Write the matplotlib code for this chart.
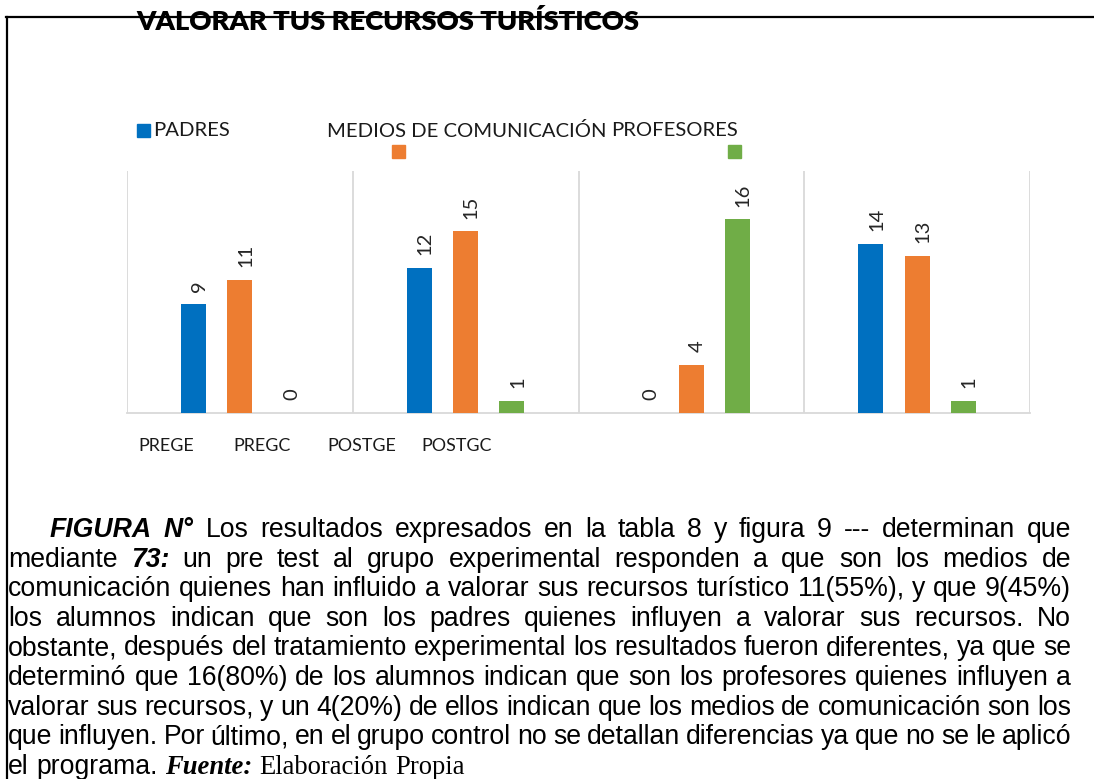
import matplotlib
matplotlib.use("Agg")
import matplotlib.pyplot as plt
from matplotlib.patches import Rectangle
from matplotlib.lines import Line2D
import numpy as np

W, H = 1094, 779

# datos del grafico
categories = ["PREGE", "PREGC", "POSTGE", "POSTGC"]
series = ["PADRES", "MEDIOS DE COMUNICACIÓN", "PROFESORES"]
padres = [9, 12, 0, 14]
medios = [11, 15, 4, 13]
profesores = [0, 1, 16, 1]
colors = ["#0070C0", "#ED7D31", "#70AD47"]
title = "VALORAR TUS RECURSOS TURÍSTICOS"

# texto de la figura (linea por linea, con estilos)
parrafo = [
    [("FIGURA N°", "bi"), ("Los resultados expresados en la tabla 8 y figura 9 --- determinan que", "n")],
    [("mediante", "n"), ("73:", "bi"), ("un pre test al grupo experimental responden a que son los medios de", "n")],
    [("comunicación quienes han influido a valorar sus recursos turístico 11(55%), y que 9(45%)", "n")],
    [("los alumnos indican que son los padres quienes influyen a valorar sus recursos. No", "n")],
    [("obstante, después del tratamiento experimental los resultados fueron diferentes, ya que se", "n")],
    [("determinó que 16(80%) de los alumnos indican que son los profesores quienes influyen a", "n")],
    [("valorar sus recursos, y un 4(20%) de ellos indican que los medios de comunicación son los", "n")],
    [("que influyen. Por último, en el grupo control no se detallan diferencias ya que no se le aplicó", "n")],
    [("el programa.", "n"), ("Fuente:", "sbi"), ("Elaboración Propia", "sr")],
]
estilos = {
    "n": dict(family="Liberation Sans"),
    "bi": dict(family="Liberation Sans", weight="bold", style="italic"),
    "sbi": dict(family="Liberation Serif", weight="bold", style="italic"),
    "sr": dict(family="Liberation Serif"),
}

fig = plt.figure(figsize=(W / 100, H / 100), dpi=100)
r = fig.canvas.get_renderer()


def fx(x):
    return x / W


def fy(y):
    return 1 - y / H


def ancho(t):
    return t.get_window_extent(r).width


def fit(s, width, x, y, ha="left", **kw):
    t = fig.text(fx(x), fy(y), s, fontsize=10, va="center", ha=ha, **kw)
    t.set_fontsize(10 * width / ancho(t))
    return t


# bordes del documento
fig.add_artist(Line2D([fx(6), 1], [fy(16.5), fy(16.5)], color="black", lw=1.6, transform=fig.transFigure))
fig.add_artist(Line2D([fx(6.5), fx(6.5)], [fy(16.5), 0], color="black", lw=1.6, transform=fig.transFigure))

# titulo
fit(title, 505, 136, 22, family="Lato", weight="heavy", color="black")

# grafico
ax = fig.add_axes([fx(127), fy(413), (1030 - 127) / W, (413 - 171) / H])
ax.set_xlim(-0.5, 3.5)
ax.set_ylim(0, 20)
x = np.arange(len(categories))
for k, (vals, c) in enumerate(zip([padres, medios, profesores], colors)):
    bars = ax.bar(x + (k - 1) * 0.205, vals, width=0.11, color=c, zorder=3)
    for b, v in zip(bars, vals):
        ax.annotate(str(v), (b.get_x() + b.get_width() / 2, v), xytext=(4, 9),
                    textcoords="offset points", rotation=90, ha="center", va="bottom",
                    fontsize=14.5, family="Lato", color="#262626")
for xv in np.arange(-0.5, 4, 1):
    ax.axvline(xv, color="#d9d9d9", lw=1.3, zorder=1)
for s in ["top", "left", "right"]:
    ax.spines[s].set_visible(False)
ax.spines["bottom"].set_color("#d9d9d9")
ax.spines["bottom"].set_linewidth(1.3)
ax.set_xticks([])
ax.set_yticks([])

# leyenda (tal como aparece en la imagen)
tl = fit(series[1], 276, 327, 131, family="Lato", color="#1a1a1a")
fs = tl.get_fontsize()
fig.text(fx(153), fy(131), series[0], fontsize=fs, family="Lato", va="center", color="#1a1a1a")
fig.text(fx(611), fy(131), series[2], fontsize=fs, family="Lato", va="center", color="#1a1a1a")
for (lx, ly), c in zip([(137, 137), (392, 158), (728, 158)], colors):
    fig.add_artist(Rectangle((fx(lx), fy(ly)), 13 / W, 13 / H, color=c, transform=fig.transFigure))

# etiquetas de categoria
tc = fit(categories[3], 70, 421, 446, family="Lato", color="#1a1a1a")
for cat, cx in zip(categories[:3], [138, 233, 327]):
    fig.text(fx(cx), fy(446), cat, fontsize=tc.get_fontsize(), family="Lato", va="center", color="#1a1a1a")

# parrafo justificado
x0, x1 = 8, 1071
base = 537
paso = 29.6
prueba = fig.text(0, 0, parrafo[2][0][0], fontsize=10, **estilos["n"])
size = 10 * (x1 - x0 - 4) / ancho(prueba)
prueba.remove()
for i, linea in enumerate(parrafo):
    palabras = []
    for seg, st in linea:
        for w in seg.split(" "):
            palabras.append(fig.text(0, fy(base + paso * i), w, fontsize=size, va="baseline", **estilos[st]))
    anchos = [ancho(t) for t in palabras]
    inicio = 50 if i == 0 else x0
    if i == len(parrafo) - 1:
        esp = fig.text(0, 0, "a a", fontsize=size, **estilos["n"])
        aa = fig.text(0, 0, "aa", fontsize=size, **estilos["n"])
        gap = ancho(esp) - ancho(aa)
        esp.remove()
        aa.remove()
    else:
        gap = (x1 - inicio - sum(anchos)) / (len(palabras) - 1)
    pos = inicio
    for t, w in zip(palabras, anchos):
        t.set_x(fx(pos))
        pos += w + gap

fig.savefig("out.png", dpi=100)
